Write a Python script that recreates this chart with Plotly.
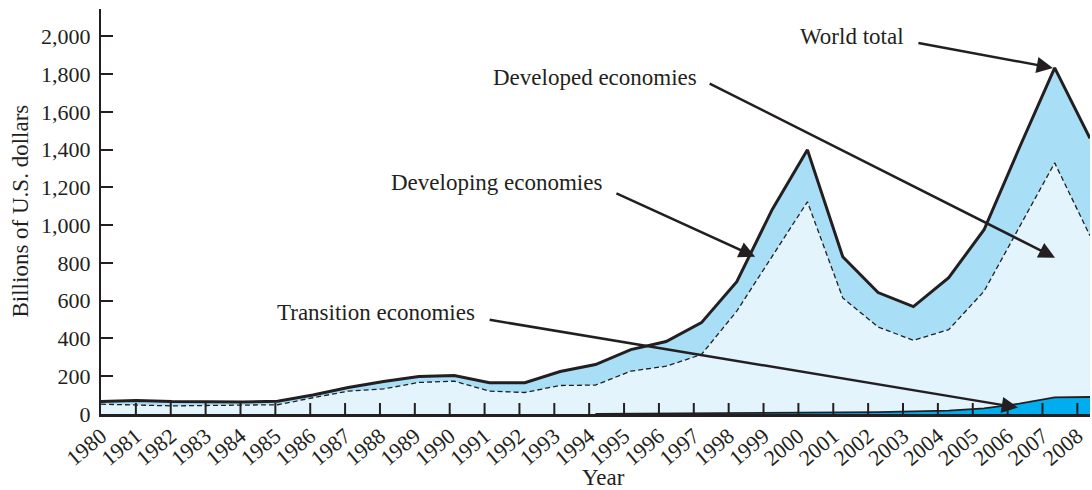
import plotly.graph_objects as go

years = list(range(1980, 2009))
world_total = [66, 72, 66, 64, 64, 67, 101, 140, 172, 198, 204, 166, 166, 225, 262,
               341, 384, 484, 701, 1082, 1399, 833, 643, 569, 722, 976, 1410, 1833, 1460]
developed = [52, 49, 43, 45, 47, 49, 86, 121, 133, 167, 174, 121, 114, 151, 153,
             227, 253, 315, 545, 833, 1124, 615, 461, 390, 447, 650, 987, 1330, 944]
transition_years = list(range(1994, 2009))
transition = [1, 2, 3, 4, 4, 5, 6, 8, 10, 14, 18, 30, 55, 88, 90]

y_ticks = list(range(0, 2001, 200))
x_tick_labels = [str(y) for y in years]

INK = "#231f20"
LIGHT = "#e4f4fc"
MID = "#a9def7"
DARK = "#00aeef"
FONT = "Liberation Serif"

fig = go.Figure()
fig.add_trace(go.Scatter(
    x=years, y=developed, mode="lines", fill="tozeroy", fillcolor=LIGHT,
    line=dict(color=INK, width=1.3, dash="5px,3px"), hoverinfo="skip", showlegend=False))
fig.add_trace(go.Scatter(
    x=years, y=world_total, mode="lines", fill="tonexty", fillcolor=MID,
    line=dict(color=INK, width=3), hoverinfo="skip", showlegend=False))
fig.add_trace(go.Scatter(
    x=transition_years, y=transition, mode="lines", fill="tozeroy",
    fillcolor=DARK, line=dict(color=INK, width=1.8), hoverinfo="skip", showlegend=False))
# empty trace so the year-label axis (x2) is drawn
fig.add_trace(go.Scatter(
    x=years, y=[None] * len(years), xaxis="x2", yaxis="y", mode="lines",
    hoverinfo="skip", showlegend=False))

annos = []
labels = [
    ("World total", 2001.26, 1997),
    ("Developed economies", 1993.99, 1780),
    ("Developing economies", 1991.21, 1225),
    ("Transition economies", 1987.79, 537),
]
for t, x, y in labels:
    annos.append(dict(text=t, x=x, y=y, xref="x", yref="y", showarrow=False,
                      font=dict(family=FONT, size=23, color=INK),
                      xanchor="center", yanchor="middle"))
arrows = [
    (2003.10, 1966, 2006.95, 1833),
    (1997.19, 1754, 2007.01, 828),
    (1994.55, 1172, 1998.52, 833),
    (1990.96, 500, 2005.96, 34),
]
for ax, ay, x, y in arrows:
    annos.append(dict(text="", x=x, y=y, ax=ax, ay=ay, xref="x", yref="y",
                      axref="x", ayref="y", showarrow=True, arrowhead=2,
                      arrowsize=1.3, arrowwidth=2.5, arrowcolor=INK, standoff=0,
                      startstandoff=0))
annos.append(dict(text="Year", x=0.5076, y=-0.157, xref="paper", yref="paper",
                  showarrow=False, font=dict(family=FONT, size=23, color=INK),
                  xanchor="center", yanchor="middle"))
annos.append(dict(text="Billions of U.S. dollars", x=-0.0819, y=0.5, xref="paper",
                  yref="paper", showarrow=False, textangle=-90,
                  font=dict(family=FONT, size=23, color=INK),
                  xanchor="center", yanchor="middle"))

# inside tick marks along the year axis, drawn above the filled areas
tick_shapes = [dict(type="line", xref="x2", yref="y", x0=yr, x1=yr,
                    ysizemode="pixel", yanchor=0, y0=0, y1=11,
                    line=dict(color=INK, width=2), layer="above")
               for yr in years[1:]]

fig.update_layout(
    width=1092, height=490,
    margin=dict(l=101, r=2, t=9, b=75.5, autoexpand=False),
    paper_bgcolor="white", plot_bgcolor="white",
    xaxis=dict(range=[1980, 2008], showline=True, linewidth=3, linecolor=INK,
               showticklabels=False, ticks="", showgrid=False, zeroline=False),
    xaxis2=dict(overlaying="x", anchor="y", side="bottom",
                range=[1980, 1980 + 989 / 34.87],
                tickmode="array", tickvals=years, ticktext=x_tick_labels,
                ticks="", showline=False, tickangle=-40,
                tickfont=dict(family=FONT, size=22, color=INK),
                ticklabelstandoff=4, showgrid=False, zeroline=False),
    yaxis=dict(range=[0, 2145], tickmode="array", tickvals=y_ticks,
               tickformat=",d", ticks="inside", ticklen=12, tickwidth=2,
               tickcolor=INK, showline=True, linewidth=2, linecolor=INK,
               tickfont=dict(family=FONT, size=22, color=INK),
               showgrid=False, zeroline=False, ticklabelstandoff=4),
    shapes=tick_shapes,
    annotations=annos,
)

fig.write_html("out.html", config={"displayModeBar": False},
               post_script="document.body.style.margin='0';document.body.style.overflow='hidden';")
